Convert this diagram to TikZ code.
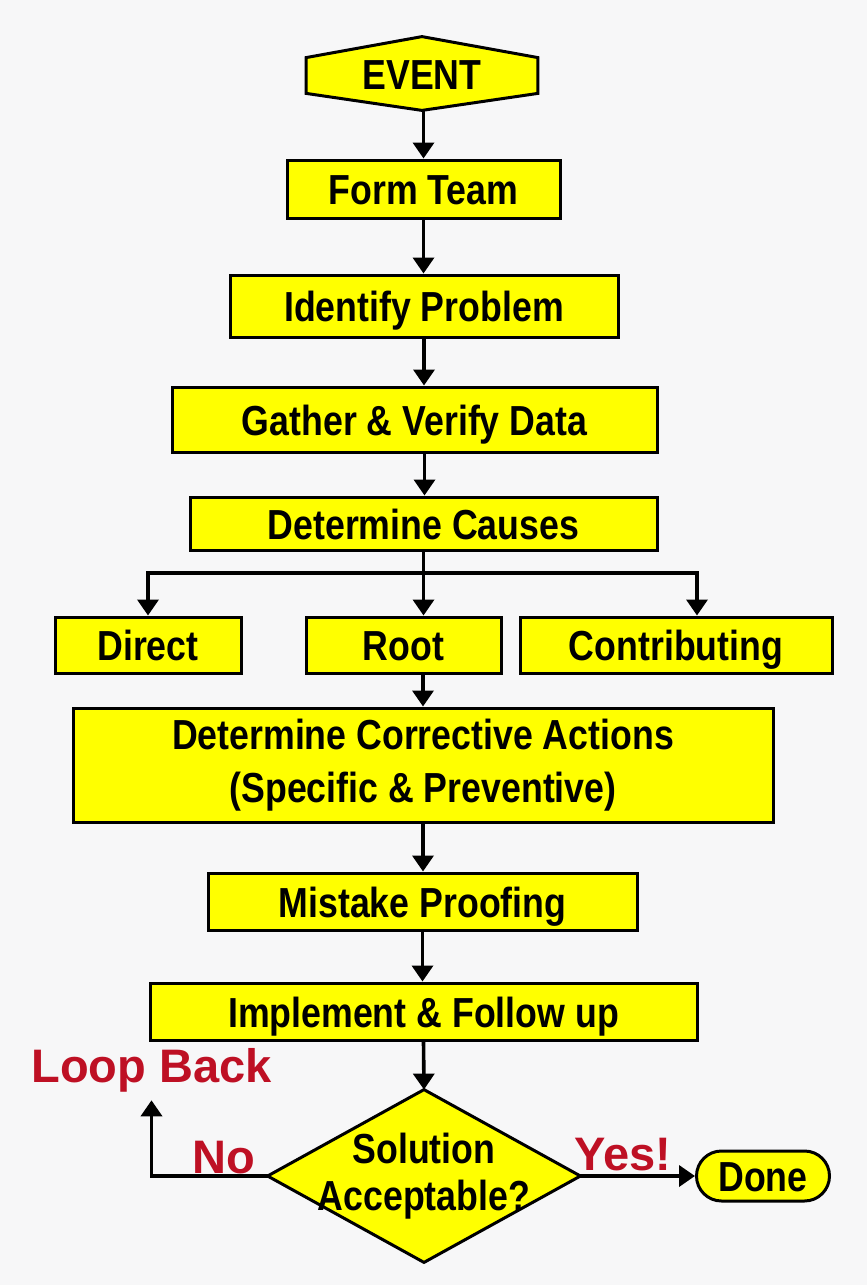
\documentclass[tikz,border=0pt]{standalone}
\usepackage{fontspec}
\setmainfont{Liberation Sans}
\newfontfamily\boxfont[FakeStretch=0.85]{Liberation Sans}
\usetikzlibrary{shapes.misc,arrows.meta,calc}
\definecolor{boxyellow}{RGB}{255,255,0}
\definecolor{loopred}{RGB}{190,16,36}
\definecolor{paper}{RGB}{247,247,248}
\pgfdeclarelayer{bg}
\pgfdeclarelayer{mid}
\pgfsetlayers{bg,mid,main}

\tikzset{
  widebox/.style={draw=black, line width=1.5pt, fill=boxyellow, align=center, inner sep=0pt,
    font=\boxfont\bfseries\fontsize{21}{26.5}\selectfont},
  stepbox/.style={widebox, text height=16pt, text depth=0.5pt},
  steptext/.style={inner sep=0pt, align=center, font=\boxfont\bfseries\fontsize{21}{23.5}\selectfont},
  arr/.style={-{Triangle[length=8pt,width=10.5pt]}, line width=1.8pt},
  redlabel/.style={text=loopred, inner sep=0pt, font=\bfseries\fontsize{23.5}{28}\selectfont}
}

\begin{document}
\begin{tikzpicture}[x=0.5pt,y=-0.5pt]

% page
\begin{pgfonlayer}{bg}
  \fill[paper] (0,0) rectangle (867,1285);
\end{pgfonlayer}

% start
\node[steptext, minimum width=115.5pt, minimum height=17.5pt] (ev) at (422,75.5) {EVENT};
\coordinate (evtop) at ($(ev.north)+(0,-21)$);
\coordinate (evbot) at ($(ev.south)+(0,17)$);
\begin{pgfonlayer}{mid}
  \filldraw[fill=boxyellow, line width=1.5pt] (ev.north west) -- (evtop) -- (ev.north east)
     -- (ev.south east) -- (evbot) -- (ev.south west) -- cycle;
\end{pgfonlayer}

% main steps
\node[stepbox, minimum width=136.5pt, minimum height=29pt] (team) at (423.5,189) {Form Team};
\node[stepbox, minimum width=194pt, minimum height=31pt] (ident) at (424,306) {Identify Problem};
\node[stepbox, minimum width=242.5pt, minimum height=32.5pt] (gather) at (414.5,419.5) {Gather \& Verify Data};
\node[stepbox, minimum width=233.5pt, minimum height=26.5pt] (causes) at (423.5,523.5) {Determine Causes};

% kinds of causes
\node[stepbox, minimum width=93pt, minimum height=28pt] (direct) at (148,645) {Direct};
\node[stepbox, minimum width=97.5pt, minimum height=28pt] (root) at (403.5,645) {Root};
\node[stepbox, minimum width=156pt, minimum height=28pt] (contrib) at (676,645) {Contributing};

\node[widebox, minimum width=350pt, minimum height=57pt] (actions) at (423,765)
   {Determine Corrective Actions\\(Specific \& Preventive)};
\node[stepbox, minimum width=214.5pt, minimum height=28.5pt] (proof) at (422.5,901.5) {Mistake Proofing};
\node[stepbox, minimum width=273.5pt, minimum height=28.5pt] (impl) at (423.5,1011.5) {Implement \& Follow up};

% decision
\node[steptext, minimum width=156pt, minimum height=86pt] (accept) at (424,1176) {Solution\\Acceptable?};
\begin{pgfonlayer}{mid}
  \filldraw[fill=boxyellow, line width=1.5pt] (accept.north) -- (accept.east) -- (accept.south)
     -- (accept.west) -- cycle;
\end{pgfonlayer}
\node[stepbox, rounded rectangle, minimum width=66.5pt, minimum height=25pt] (done) at (763,1176) {Done};

\node[redlabel] (loopback) at (151.5,1070) {Loop Back};
\node[redlabel] (no) at (224,1158) {No};
\node[redlabel] (yes) at (623,1155) {Yes!};

% arrows
\draw[arr] (evbot) -- (team.north |- evbot) -- (team.north);
\draw[arr] (team.south) -- (team.south |- ident.north);
\draw[arr] (ident.south) -- (ident.south |- gather.north);
\draw[arr] ([xshift=5pt]gather.south) -- ([xshift=5pt]gather.south |- causes.north);

\coordinate (fork) at (425,573);
\draw[arr] (causes.south) -- (causes.south |- root.north);
\draw[arr] (fork) -| (direct.north);
\draw[arr] (fork) -| ([xshift=10.5pt]contrib.north);

\draw[arr] (actions.north |- root.south) -- (actions.north);
\draw[arr] (actions.south) -- (actions.south |- proof.north);
\draw[arr] (proof.south) -- (proof.south |- impl.north);
\draw[arr] (impl.south) -- (accept.north);

\draw[arr] (accept.west) -| ([yshift=-4pt]loopback.south);
\draw[arr] (accept.east) -- (done.west);

\end{tikzpicture}
\end{document}
